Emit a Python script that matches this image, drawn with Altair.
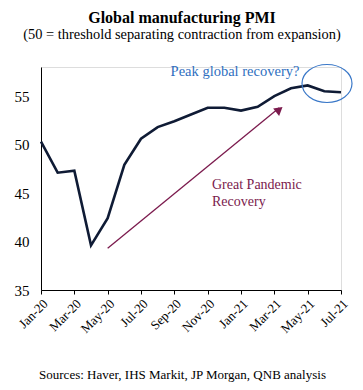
import altair as alt
import pandas as pd

months = ["Jan-20","Feb-20","Mar-20","Apr-20","May-20","Jun-20","Jul-20","Aug-20","Sep-20",
          "Oct-20","Nov-20","Dec-20","Jan-21","Feb-21","Mar-21","Apr-21","May-21","Jun-21","Jul-21"]
pmi = [50.3, 47.1, 47.3, 39.6, 42.4, 47.9, 50.6, 51.8, 52.4,
       53.1, 53.8, 53.8, 53.5, 53.9, 55.0, 55.8, 56.1, 55.5, 55.4]
tick_labels = ["Jan-20","Mar-20","May-20","Jul-20","Sep-20","Nov-20","Jan-21","Mar-21","May-21","Jul-21"]

FONT = "Liberation Serif"
line_df = pd.DataFrame({"i": list(range(len(months))), "month": months, "pmi": pmi})

x_scale = alt.Scale(domain=[0, 18], nice=False)
y_scale = alt.Scale(domain=[35, 58], nice=False)

label_expr = "[" + ",".join("'%s'" % l for l in tick_labels) + "][round(datum.value/2)]"

x_axis = alt.Axis(values=list(range(0, 19, 2)), labelExpr=label_expr, labelAngle=-45,
                  labelOverlap=False, labelBound=False, labelFlush=False,
                  labelFont=FONT, labelFontSize=13, labelColor="black",
                  tickColor="black", tickSize=4, domainColor="black", grid=False,
                  title="Sources: Haver, IHS Markit, JP Morgan, QNB analysis",
                  titleFont=FONT, titleFontSize=13, titleFontWeight="normal",
                  titleColor="black", titleX=141, titleY=88, titleAlign="center",
                  titleBaseline="alphabetic", labelPadding=3)
y_axis = alt.Axis(values=[35, 40, 45, 50, 55], ticks=False, grid=False,
                  domainColor="black", labelFont=FONT, labelFontSize=15,
                  labelColor="black", labelPadding=12, title=None)

def X(f="i:Q"):
    return alt.X(f, scale=x_scale, axis=x_axis)

def Y(f="pmi:Q"):
    return alt.Y(f, scale=y_scale, axis=y_axis)

line = alt.Chart(line_df).mark_line(color="#0f1b35", strokeWidth=2.6).encode(x=X(), y=Y())

# arrow
arrow_df = pd.DataFrame({"i": [4.0], "pmi": [39.3], "i2": [14.3], "pmi2": [53.8]})
arrow = alt.Chart(arrow_df).mark_rule(color="#7b1a4d", strokeWidth=1.3).encode(
    x=X(), y=Y(), x2="i2:Q", y2="pmi2:Q")
head_df = pd.DataFrame({"i": [14.3], "pmi": [53.6]})
head = alt.Chart(head_df).mark_point(shape="triangle-up", filled=True, color="#7b1a4d",
                                     size=90, angle=51, opacity=1).encode(x=X(), y=Y())

# ellipse
ell_df = pd.DataFrame({"i": [17.16], "pmi": [56.3]})
ellipse = alt.Chart(ell_df).mark_point(
    shape="M -1,0 A 1,0.76 0 1,0 1,0 A 1,0.76 0 1,0 -1,0 Z",
    size=2500, filled=False, stroke="#3a78c8", strokeWidth=1.2, opacity=1).encode(x=X(), y=Y())

peak_df = pd.DataFrame({"i": [11.64], "pmi": [57.07], "t": ["Peak global recovery?"]})
peak_text = alt.Chart(peak_df).mark_text(font=FONT, fontSize=14.5, color="#2f6fc0",
                                         align="center", baseline="alphabetic").encode(
    x=X(), y=Y(), text="t:N")

gpr_df = pd.DataFrame({"i": [10.26], "pmi": [45.38], "t": [["Great Pandemic", "Recovery"]]})
gpr_text = alt.Chart(gpr_df).mark_text(font=FONT, fontSize=14, color="#7b1a4d",
                                       align="left", baseline="alphabetic", lineHeight=17).encode(
    x=X(), y=Y(), text="t")

chart = alt.layer(line, arrow, head, ellipse, peak_text, gpr_text).properties(
    width=300, height=223,
    title=alt.TitleParams(text="Global manufacturing PMI",
                          subtitle="(50 = threshold separating contraction from expansion)",
                          font=FONT, fontSize=16, fontWeight="bold", color="black",
                          subtitleFont=FONT, subtitleFontSize=14.4, subtitleColor="black",
                          subtitlePadding=2, anchor="middle", dx=-9, offset=21),
    autosize=alt.AutoSizeParams(type="none"),
    padding={"left": 33, "top": 59, "right": 14, "bottom": 92},
).configure_view(stroke=None).configure(background="white")

chart.save("out.html", embed_options={"renderer": "svg", "actions": False})
